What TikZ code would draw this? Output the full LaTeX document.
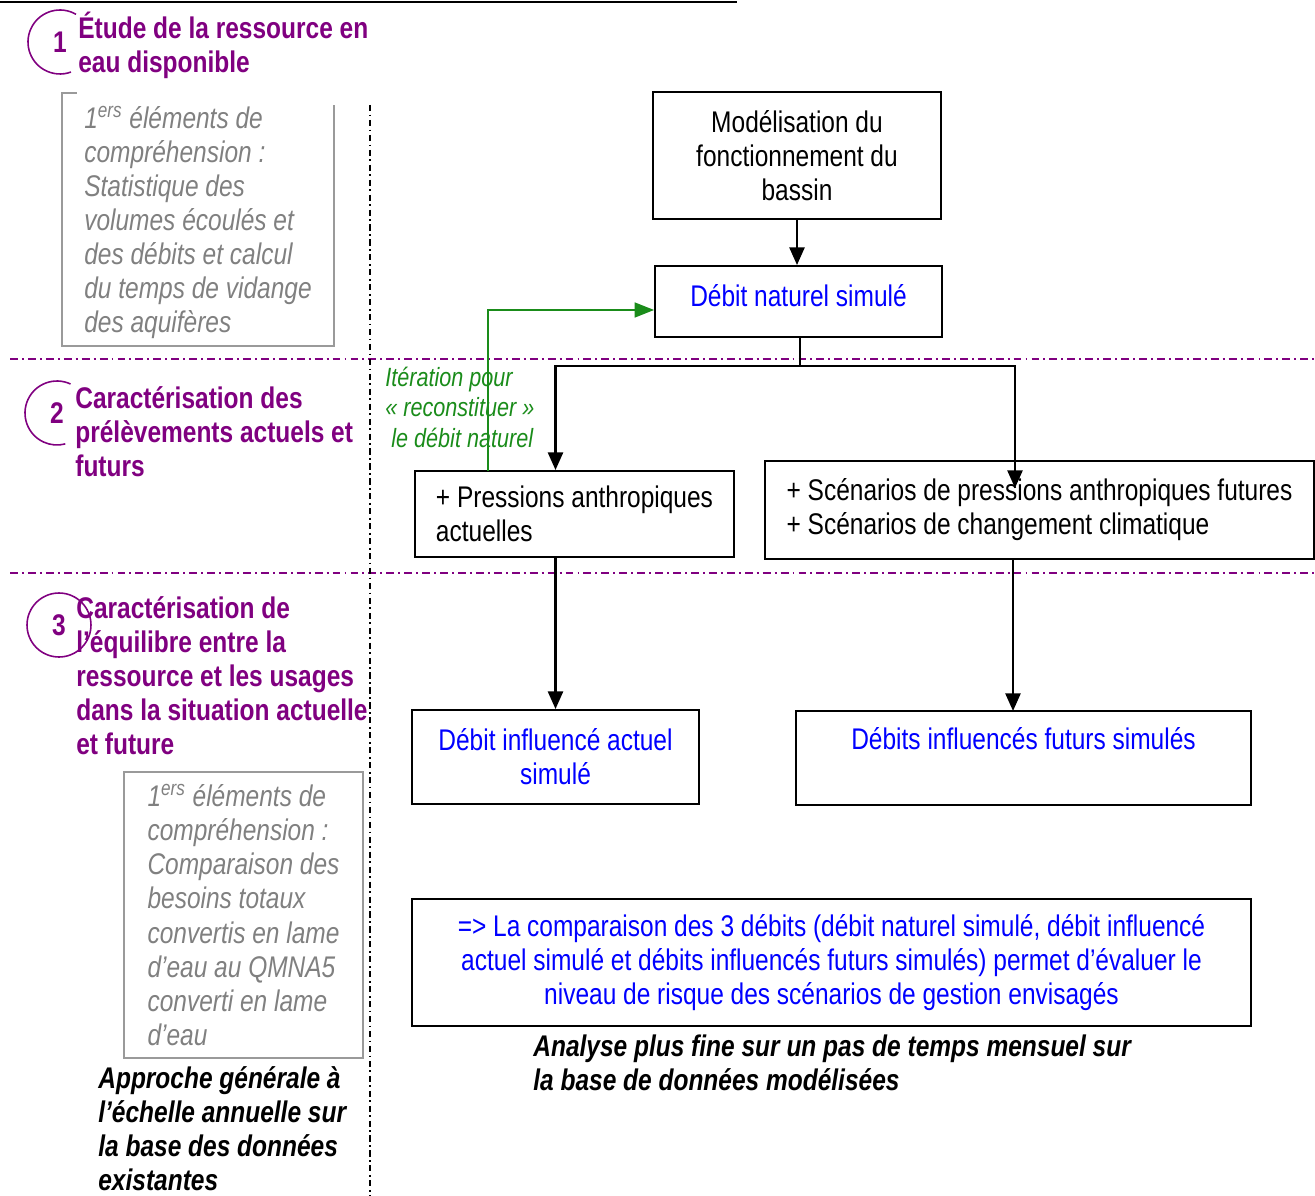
\documentclass[tikz,border=0pt]{standalone}
\usepackage{fontspec}
\setmainfont{Liberation Sans}[FakeStretch=0.82]
\usetikzlibrary{arrows.meta,positioning}
\definecolor{violetetape}{HTML}{800080}
\definecolor{bleudebit}{HTML}{0000FF}
\definecolor{vertiter}{HTML}{1A8C1A}
\definecolor{grisnote}{HTML}{808080}
\definecolor{grisbord}{HTML}{9A9A9A}
\tikzset{
  boite/.style={draw, line width=1.1pt, inner sep=0pt, align=center},
  fleche/.style={line width=1.4pt, -{Triangle[length=10pt,width=8.5pt]}},
  titre/.style={anchor=north west, inner sep=0pt, align=left, text=violetetape, font=\bfseries},
  etapenum/.style={inner sep=0pt, text=violetetape, font=\bfseries},
  note/.style={inner sep=0pt, align=left, text=grisnote, font=\itshape},
  grisboite/.style={draw=grisbord, line width=1pt},
  bilan/.style={anchor=north west, inner sep=0pt, align=left, font=\bfseries\itshape},
  separation/.style={violetetape, line width=0.85pt, dash pattern=on 4.5pt off 2.3pt on 1.1pt off 2.3pt},
}
\begin{document}
\fontsize{17pt}{19.4pt}\selectfont
\begin{tikzpicture}[x=0.02cm,y=-0.02cm]
\useasboundingbox (0,0) rectangle (1315,1196);
\draw[line width=1.1pt] (0,2)--(737,2);
% separations
\draw[separation] (10,359)--(1315,359);
\draw[separation] (10,573)--(1315,573);
\draw[line width=1pt, dash pattern=on 3.5pt off 2pt on 1pt off 2pt] (370,105)--(370,1196);
% etapes
\node[etapenum] (num1) at (60,42) {1};
\draw[violetetape, line width=0.9pt] (num1.center) ++(60:0.64cm) arc[start angle=60, end angle=290, radius=0.64cm];
\node[titre] (titre1) at (78,12) {Étude de la ressource en\\eau disponible};
\node[etapenum] (num2) at (57,413) {2};
\draw[violetetape, line width=0.9pt] (num2.center) ++(65:0.64cm) arc[start angle=65, end angle=285, radius=0.64cm];
\node[titre] (titre2) at (75,386) {Caractérisation des\\prélèvements actuels et\\futurs};
\node[etapenum] (num3) at (59,625) {3};
\draw[violetetape, line width=0.9pt] (num3.center) circle[radius=0.64cm];
\node[titre] (titre3) at (76,596) {Caractérisation de\\l’équilibre entre la\\ressource et les usages\\dans la situation actuelle\\et future};
% notes grises
\node[note, minimum width=5.44cm, minimum height=5.06cm, text depth=0pt] (note1) at (198,219.5)
  {1\textsuperscript{ers} éléments de\\compréhension :\\Statistique des\\volumes écoulés et\\des débits et calcul\\du temps de vidange\\des aquifères};
\draw[grisboite] ([xshift=0.3cm]note1.north west) -- (note1.north west) -- (note1.south west) -- (note1.south east) -- ([yshift=-0.24cm]note1.north east);
\node[note, grisboite, minimum width=4.78cm, minimum height=5.72cm] (note2) at (243.5,915)
  {1\textsuperscript{ers} éléments de\\compréhension :\\Comparaison des\\besoins totaux\\convertis en lame\\d’eau au QMNA5\\converti en lame\\d’eau};
\node[bilan] (approche) at (98,1066) {Approche générale à\\l’échelle annuelle sur\\la base des données\\existantes};
% schema
\node[boite, minimum width=5.76cm, minimum height=2.54cm] (modele) at (797,155.5) {Modélisation du\\fonctionnement du\\bassin};
\node[boite, text=bleudebit, minimum width=5.74cm, minimum height=1.42cm, text depth=6.5pt] (naturel) at (798.5,301.5) {Débit naturel simulé};
\node[boite, align=left, minimum width=6.38cm, minimum height=1.72cm] (pression) at (574.5,514) {+ Pressions anthropiques\\actuelles};
\node[boite, align=left, minimum width=10.98cm, minimum height=1.96cm] (scenario) at (1039.5,510) {+ Scénarios de pressions anthropiques futures\\+ Scénarios de changement climatique};
\node[boite, text=bleudebit, minimum width=5.74cm, minimum height=1.88cm] (influ) at (555.5,757) {Débit influencé actuel\\simulé};
\node[boite, text=bleudebit, minimum width=9.10cm, minimum height=1.88cm, text depth=22pt] (futur) at (1023.5,758) {Débits influencés futurs simulés};
\node[boite, text=bleudebit, minimum width=16.78cm, minimum height=2.54cm] (compar) at (831.5,962.5)
  {=> La comparaison des 3 débits (débit naturel simulé, débit influencé\\actuel simulé et débits influencés futurs simulés) permet d’évaluer le\\niveau de risque des scénarios de gestion envisagés};
\node[bilan] (analyse) at (533,1034) {Analyse plus fine sur un pas de temps mensuel sur\\la base de données modélisées};
\node[anchor=north west, inner sep=0pt, align=left, text=vertiter, font=\fontsize{15pt}{17.2pt}\selectfont\itshape] (iter) at (385,367)
  {Itération pour\\« reconstituer »\\\ le débit naturel};
% liaisons
\coordinate (partage) at (800,366);
\coordinate (scenpointe) at (1015,488);
\coordinate (futurfleche) at (1013,711);
\coordinate (iterpied) at (488,471);
\draw[fleche] (modele.south) -- (modele.south |- naturel.north);
\draw[line width=1.4pt] (naturel.south -| partage) -- (partage);
\draw[fleche] (partage) -| (pression.north -| influ.north);
\draw[fleche] (partage) -| (scenpointe);
\draw[fleche] (pression.south -| influ.north) -- (influ.north);
\draw[fleche] (futurfleche |- scenario.south) -- (futurfleche);
\draw[vertiter, line width=0.9pt, -{Triangle[length=11pt,width=8.5pt]}] (iterpied) |- ([yshift=-0.17cm]naturel.west);
\end{tikzpicture}
\end{document}
